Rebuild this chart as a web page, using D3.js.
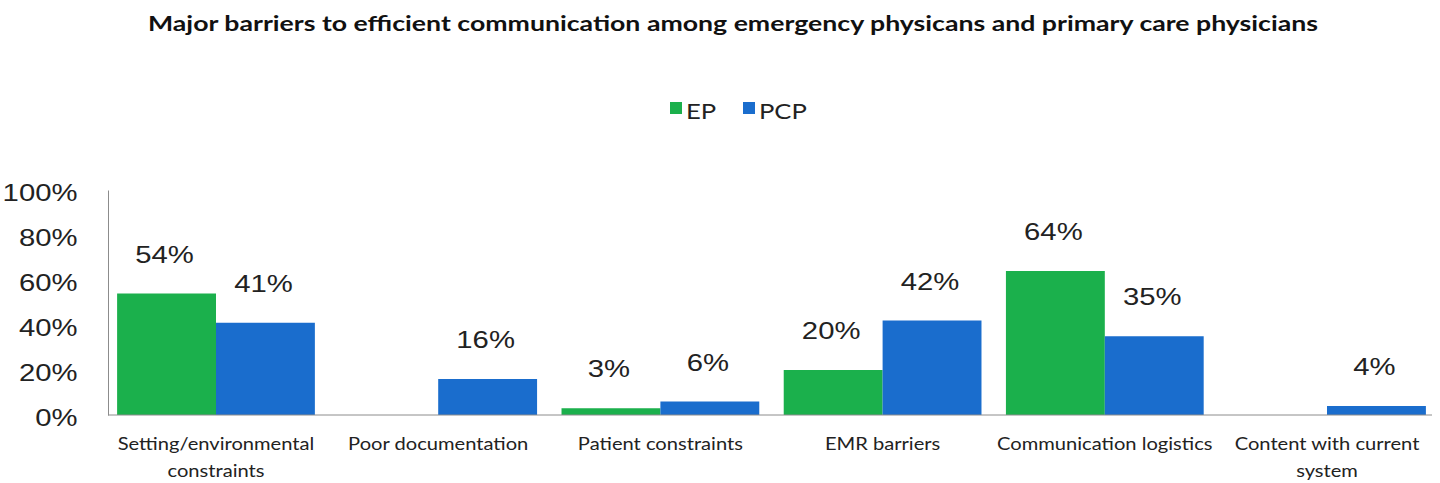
<!DOCTYPE html>
<html>
<head>
<meta charset="utf-8">
<script src="https://cdn.jsdelivr.net/npm/d3@7"></script>
<style>
  body { margin: 0; background: #fff; }
  svg { display: block; }
</style>
</head>
<body>
<div id="chart"></div>
<script>
// data
var categories = ["Setting/environmental constraints", "Poor documentation", "Patient constraints",
                  "EMR barriers", "Communication logistics", "Content with current system"];
var categoryLines = [["Setting/environmental", "constraints"], ["Poor documentation"], ["Patient constraints"],
                     ["EMR barriers"], ["Communication logistics"], ["Content with current", "system"]];
var seriesNames = ["EP", "PCP"];
var epValues = [54, 0, 3, 20, 64, 0];
var pcpValues = [41, 16, 6, 42, 35, 4];
var yTicks = [0, 20, 40, 60, 80, 100];

var colors = {EP: "#1bb04c", PCP: "#1a6dcd"};
var sx = 1.22; // the original is stretched sideways

var svgWidth = 1440, svgHeight = 483;
var svg = d3.select("#chart").append("svg")
    .attr("width", svgWidth)
    .attr("height", svgHeight);

var data = categories.map((c, i) => ({cat: c, lines: categoryLines[i], EP: epValues[i], PCP: pcpValues[i]}));

var x0 = d3.scaleBand().domain(categories).range([106, 1437]).paddingInner(0.11).paddingOuter(0.05);
var x1 = d3.scaleBand().domain(seriesNames).range([0, x0.bandwidth()]);
var y = d3.scaleLinear().domain([0, 100]).range([415, 190]);

// title
svg.append("text")
    .attr("x", 733).attr("y", 31)
    .attr("text-anchor", "middle")
    .attr("textLength", 1170)
    .attr("lengthAdjust", "spacingAndGlyphs")
    .style("font-family", "Lato, 'Open Sans', sans-serif")
    .style("font-weight", "bold")
    .style("font-size", "21px")
    .style("fill", "#111")
    .text("Major barriers to efficient communication among emergency physicans and primary care physicians");

// legend
var legend = svg.append("g");
var legendX = [670, 743];
seriesNames.forEach((s, i) => {
    legend.append("rect")
        .attr("x", legendX[i]).attr("y", 102)
        .attr("width", 12).attr("height", 12)
        .attr("fill", colors[s]);
    legend.append("text")
        .attr("transform", `translate(${legendX[i] + 16}, 119) scale(${sx},1)`)
        .style("font-family", "Lato, sans-serif")
        .style("font-size", "21px")
        .style("fill", "#222")
        .text(s);
});

// y axis
var yAxis = d3.axisLeft(y).tickValues(yTicks).tickFormat(d => d + "%")
    .tickSize(0).tickSizeOuter(0).tickPadding(25);
var yG = svg.append("g").attr("transform", "translate(108,0)").call(yAxis);
yG.select(".domain").attr("stroke", "#8c8c8c");
yG.selectAll("text")
    .attr("dy", "0.42em")
    .attr("transform", `scale(${sx},1)`)
    .style("font-family", "'Liberation Sans', Arial, sans-serif")
    .style("font-size", "24px")
    .style("fill", "#222");

// bars
var groups = svg.selectAll(".grp")
    .data(data)
    .enter()
    .append("g")
    .attr("class", "grp")
    .attr("transform", d => `translate(${x0(d.cat)},0)`);

groups.selectAll("rect")
    .data(d => seriesNames.map(s => ({key: s, value: d[s]})))
    .enter()
    .append("rect")
    .attr("x", d => x1(d.key))
    .attr("y", d => y(d.value))
    .attr("width", x1.bandwidth())
    .attr("height", d => y(0) - y(d.value))
    .attr("fill", d => colors[d.key]);

groups.selectAll(".val")
    .data(d => seriesNames.map(s => ({key: s, value: d[s]})).filter(e => e.value > 0))
    .enter()
    .append("text")
    .attr("class", "val")
    .attr("transform", d => `translate(${x1(d.key) + x1.bandwidth() / 2 - 2}, ${y(d.value) - 31}) scale(${sx},1)`)
    .attr("text-anchor", "middle")
    .style("font-family", "'Liberation Sans', Arial, sans-serif")
    .style("font-size", "24px")
    .style("fill", "#222")
    .text(d => d.value + "%");

// baseline
svg.append("line")
    .attr("x1", 108).attr("x2", 1432)
    .attr("y1", y(0)).attr("y2", y(0))
    .attr("stroke", "#8c8c8c");

// category labels
groups.each(function(d) {
    var g = d3.select(this);
    d.lines.forEach((line, j) => {
        g.append("text")
            .attr("transform", `translate(${x0.bandwidth() / 2}, ${450 + j * 27}) scale(${sx},1)`)
            .attr("text-anchor", "middle")
            .style("font-family", "Lato, sans-serif")
            .style("font-size", "16.5px")
            .style("fill", "#222")
            .text(line);
    });
});
</script>
</body>
</html>
